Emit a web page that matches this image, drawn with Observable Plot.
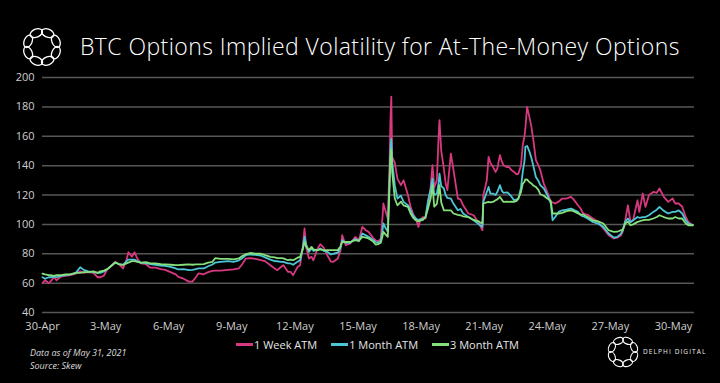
<!DOCTYPE html>
<html>
<head>
<meta charset="utf-8">
<script src="https://cdn.jsdelivr.net/npm/d3@7"></script>
<script src="https://cdn.jsdelivr.net/npm/@observablehq/plot@0.6"></script>
<style>
  html, body { margin: 0; padding: 0; background: #000; }
  #wrap { position: relative; width: 720px; height: 383px; background: #000; overflow: hidden; font-family: "Open Sans", Lato, sans-serif; color: #ddd; }
  #title { position: absolute; left: 80px; top: 30px; font-size: 23px; font-weight: 300; letter-spacing: 0.42px; color: #fff; white-space: nowrap; }
  #logo { position: absolute; left: 19px; top: 24px; }
  #chart { position: absolute; left: 0; top: 62px; }
  #legend { position: absolute; left: 236px; top: 337px; display: flex; gap: 14px; font-size: 11px; color: #e6e6e6; }
  #legend .item { display: flex; align-items: center; }
  #legend .sw { width: 17px; height: 3px; margin-right: 1px; }
  #foot { position: absolute; left: 30px; top: 346px; font-size: 9px; font-style: italic; color: #ddd; line-height: 13px; }
  #dlogo { position: absolute; left: 604px; top: 333px; }
  #dtext { position: absolute; left: 643px; top: 347px; font-size: 6.5px; letter-spacing: 1.1px; color: #eee; }
</style>
</head>
<body>
<div id="wrap">
  <svg id="logo" width="46" height="46" viewBox="-23 -23 46 46"></svg>
  <div id="title">BTC Options Implied Volatility for At-The-Money Options</div>
  <div id="chart"></div>
  <div id="legend"></div>
  <div id="foot">Data as of May 31, 2021<br>Source: Skew</div>
  <svg id="dlogo" width="38" height="38" viewBox="-19 -19 38 38"></svg>
  <div id="dtext">DELPHI DIGITAL</div>
</div>
<script>
// hours since 2021-04-30 00:00 UTC
const hours = [0,3,7,9,13,16,21,26,32,38,43,47,52,58,63,66,70,74,79,83,87,92,96,98,102,105,108,112,118,123,129,135,140,146,152,155,161,167,171,175,178,184,189,194,197,203,212,218,224,228,232,237,243,249,254,260,265,268,272,275,280,283,286,291,294,297,299,301,304,307,309,314,317,321,325,329,332,337,340,342,346,351,357,361,365,369,372,377,380,383,386,388,389,391,394,396,397,398,399,402,405,409,412,417,420,423,426,429,431,434,437,440,443,445,447,450,452,453,455,458,460,462,466,469,474,477,480,486,492,498,500,502,503,507,509,511,514,517,519,522,524,526,530,532,535,538,541,543,546,548,550,551,553,556,558,560,563,566,568,572,576,580,582,585,589,593,598,603,606,611,614,617,622,628,634,640,646,652,656,660,662,665,668,671,674,679,681,685,688,692,697,701,704,709,714,719,722,726,730,734,737,742];

const week = [60,62,60,61,64,62,64.5,65,65.5,66.5,68,67,67.5,67,64,64,65,69.5,72,74.5,73,70,76,81,78,81,77,73.5,72.9,70.5,70.6,69.5,69,67.5,66,64.2,63,61,61,64,66.6,66,67.5,68.3,68.5,68.5,69,69.3,70,73,76.7,77,76.5,75.6,75,72.2,70,68.8,71,72.2,67.7,67.7,65.4,71,72.2,85,97.2,84,76.8,77.9,75.6,83.6,86.5,84,79,74.7,74.5,76.8,82,92.6,85.8,86.9,91.5,89.2,98.3,96,94.9,91,89.2,88.5,90,105,114.2,110,104,140,170,187,146,142,131,126.7,130,120,111.9,107,104,98.3,103,105,104,113,126,140.3,125,130,160,171,150,138,128,123.3,148.2,136.9,117.6,117,113,107.4,106.2,100.6,98.5,96,119.9,130,146,142,139.2,135.7,138,147.1,143,140.3,139,139.2,137,135.7,134,134.5,140,153.9,160,165.3,180,172,166,158,143.7,140,136.9,127.8,122,115.3,115,114.2,115.5,117.6,117.6,118.7,117,113,110.8,107.4,106.5,104,101.7,97.2,92.6,90.4,91,92.5,94.9,102.8,113,101.7,103,116.4,108.5,121,111.9,119.9,122.1,121.5,124.4,118.7,115.3,117.6,114.2,114.2,112,105,101.7,99.4];

const month = [64,63,64,64,64.5,64,65,65.5,66,67,70.8,69,68,67.5,67,67,68,69.5,72,74,73,72.5,75,76,76,76,75,74,73.6,73,72.5,72,71.8,71,70,69.3,69.5,68.8,69,69.5,70,70,71.5,72.7,74,74.5,75,74.5,75.5,77,79,79.5,79.3,78.8,77.5,76,75,74.9,74.5,74.5,73.4,73.4,72.5,74.5,75.6,84,91.5,86,81.3,83.6,82,82.5,83.6,82,81.3,79.5,80,80.7,84,89.2,87.4,87.5,90,88.5,93.8,92.5,91.5,89.5,88,87.5,88.5,96,100.6,98,95,130,150,158,142.5,126.7,117.6,119.5,115.3,113,109.6,106,104,103,103.5,103.5,105,116.4,124,131.2,120,121,128,134.6,126,124.4,120,118,117.6,114,109.6,110.5,107.4,105,102.8,100,99,98.3,115.3,122,125.5,121,121,120,122,126.7,123,121.5,121.8,121,119,116.4,117,117.5,125,135.7,143,152.8,153.4,149,145,140,132.3,129.5,126.7,124.5,120,114.2,102.8,105,108.5,109.6,110,110.8,110,108.5,106.2,105.5,104,101.7,100.5,98.3,93.8,91,91.5,93.5,96,102,104,101.5,102.8,105,104.5,105,105,106.2,108.5,110,111.9,109.2,107.4,108.5,108.5,109.5,107.4,102.8,100.5,99.4];

const threeMonth = [66.5,66,65.5,65.5,65,65.5,65.5,66,66,67,67,67.5,67.5,68,67,68,68.5,69.5,72,74,73,72.5,73.5,74,75,75,74.5,74,74.3,73.5,73.5,73,72.8,72.5,72.2,72.2,72.5,72.7,72.5,72.8,72.7,73,74,74.5,77,76.5,76.5,76.2,76.8,78.5,79.7,80.5,80,80,79,77.9,77.5,77,77,76.8,75.6,76,75.6,77.3,77.9,83,88,84.7,82.5,84.7,83,82.5,83,82.5,82.5,82.5,82.4,82.5,85,88,88,88,89.2,89,91.5,91,90.4,88.5,86.3,86.5,87.5,92,94.9,93.5,91.5,125,145,151,135.7,117.6,113,115.5,113,111.9,107.4,104.5,102.8,102,102.5,103,105,111,118,126.7,112,114,122,126.7,115,109.6,109.6,109.6,109.6,107.4,106.5,106.2,105.5,105,103,102,101,100.6,114.2,115,115.3,115,115.3,116.4,117,118.7,117,115.3,115.5,115.3,115.5,115.3,116,117.6,122,127.8,129,130.7,130.5,128.5,127.8,126.5,125.5,123.3,120.5,119.5,117.6,116,107.4,107.4,107.4,107.8,109,109.6,109,107.5,106.8,106.7,105,102.8,102,100.6,96,94.9,95,96,96,100.6,102,99.4,100,101.7,102,102.8,103,103,104,105,106.2,105,104,104,105,104,104,100.6,99.4,99.4];

const seriesNames = ["1 Week ATM", "1 Month ATM", "3 Month ATM"];
const seriesColors = ["#d8387f", "#4cc6d6", "#86e07c"];
const yTicks = [40, 60, 80, 100, 120, 140, 160, 180, 200];
const xTickLabels = ["30-Apr","3-May","6-May","9-May","12-May","15-May","18-May","21-May","24-May","27-May","30-May"];
const xTickDates = ["2021-04-30","2021-05-03","2021-05-06","2021-05-09","2021-05-12","2021-05-15","2021-05-18","2021-05-21","2021-05-24","2021-05-27","2021-05-30"];

const t0 = Date.UTC(2021, 3, 30);
const seriesValues = [week, month, threeMonth];
const data = [];
seriesValues.forEach((vals, s) => {
  vals.forEach((v, i) => data.push({series: seriesNames[s], date: new Date(t0 + hours[i] * 3600e3), value: v}));
});

const tickDates = xTickDates.map(d => new Date(d + "T00:00:00Z"));
const fmtX = (d) => xTickLabels[tickDates.findIndex(t => +t === +d)];

const chart = Plot.plot({
  width: 720,
  height: 274,
  marginTop: 15,
  marginBottom: 24,
  marginLeft: 42,
  marginRight: 26,
  style: {background: "transparent", color: "#cfcfcf", fontSize: "11px", fontFamily: "'Open Sans', Lato, sans-serif"},
  x: {type: "utc", domain: [new Date(t0), new Date(Date.UTC(2021, 4, 31))], label: null},
  y: {domain: [40, 200], label: null},
  color: {domain: seriesNames, range: seriesColors},
  marks: [
    Plot.gridY(yTicks, {stroke: "#575757", strokeOpacity: 1, strokeWidth: 1.5}),
    Plot.axisX({ticks: tickDates, tickFormat: fmtX, tickSize: 0, tickPadding: 10, label: null, fill: "#cfcfcf"}),
    Plot.axisY({ticks: yTicks, tickSize: 0, tickPadding: 8, label: null, fill: "#cfcfcf"}),
    Plot.lineY(data, {x: "date", y: "value", z: "series", stroke: "series", strokeWidth: 1.8, curve: "linear"})
  ]
});
document.getElementById("chart").appendChild(chart);

// legend
const legend = document.getElementById("legend");
seriesNames.forEach((n, i) => {
  const it = document.createElement("div");
  it.className = "item";
  const sw = document.createElement("span");
  sw.className = "sw";
  sw.style.background = seriesColors[i];
  const tx = document.createElement("span");
  tx.textContent = n;
  it.appendChild(sw); it.appendChild(tx);
  legend.appendChild(it);
});

// ring logos: chain of tangential ovals
function ring(svgId, R, rx, ry, sw) {
  const svg = d3.select("#" + svgId);
  for (let k = 0; k < 8; k++) {
    const a = k * 45 + 22.5;
    svg.append("ellipse")
      .attr("cx", 0).attr("cy", -R).attr("rx", rx).attr("ry", ry)
      .attr("transform", `rotate(${a})`)
      .attr("fill", "none").attr("stroke", "#fff").attr("stroke-width", sw);
  }
}
ring("logo", 15, 6.5, 4, 1.3);
ring("dlogo", 12, 5.2, 3.2, 1.1);
</script>
</body>
</html>
